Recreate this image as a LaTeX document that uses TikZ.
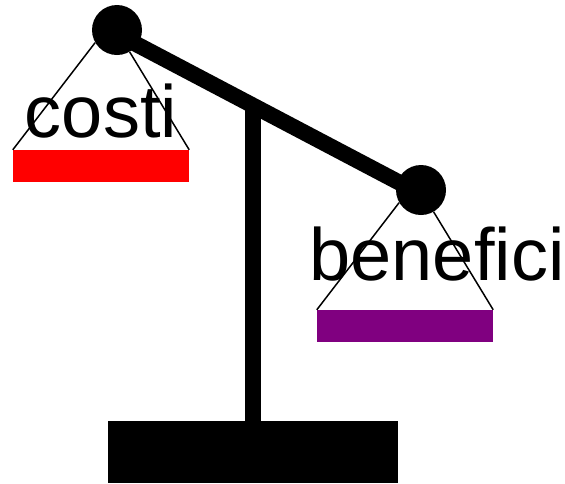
\documentclass[tikz,border=0pt]{standalone}
\usepackage{fontspec}
\setmainfont{Liberation Sans}
\usetikzlibrary{positioning}
\definecolor{panpurple}{RGB}{128,0,128}
\tikzset{
	pivot/.style={circle, fill=black, inner sep=0pt, minimum size=50pt},
	pan/.style={rectangle, inner sep=0pt, minimum width=176pt, minimum height=32pt},
	cord/.style={line width=1.5pt},
	bar/.style={line width=16pt},
	word/.style={font=\fontsize{74}{80}\selectfont, anchor=base, inner sep=0pt}
}
\begin{document}
\begin{tikzpicture}[x=1pt, y=-1pt]
		%%%%% START %%%%%
		\useasboundingbox (0, 0) rectangle (565, 483);
		
		\fill[black] (108, 421) rectangle (398, 483);
		\draw[bar] (253, 110) -- (253, 421);
		
		\coordinate (hookL) at (117, 30);
		\coordinate (hookR) at (421, 190);
		\draw[bar] ([yshift=-4pt]hookL) -- ([yshift=-4pt]hookR);
		\node[pivot] (ballL) at (hookL) {};
		\node[pivot] (ballR) at (hookR) {};
		
		\node[pan, fill=red] (panL) at (101, 166) {};
		\draw[cord] (ballL.210) -- (panL.north west);
		\draw[cord] (ballL.300) -- (panL.north east);
		\node[word] (costi) at (101, 137) {costi};
		
		\node[pan, fill=panpurple] (panR) at (405, 326) {};
		\draw[cord] (ballR.210) -- (panR.north west);
		\draw[cord] (ballR.300) -- (panR.north east);
		\node[word] (benefici) at (437, 280) {benefici};
		
		%%%%% END %%%%%
\end{tikzpicture}
\end{document}
